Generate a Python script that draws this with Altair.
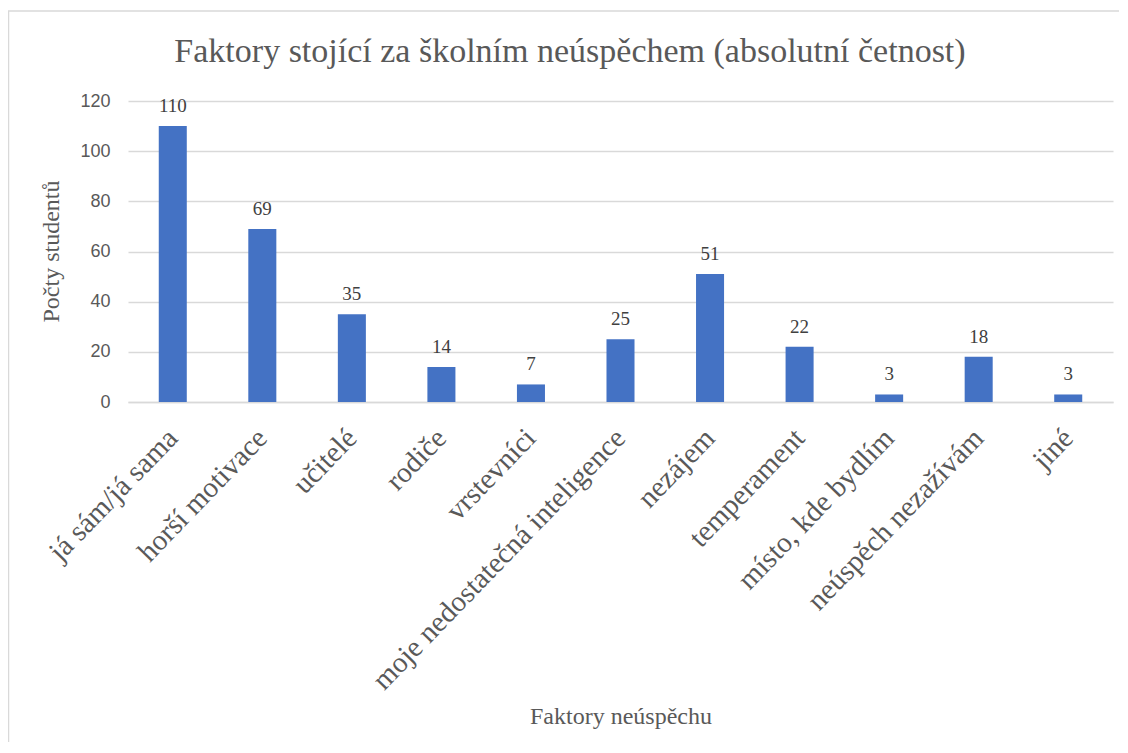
import altair as alt
import pandas as pd

categories = ["já sám/já sama", "horší motivace", "učitelé", "rodiče", "vrstevníci",
              "moje nedostatečná inteligence", "nezájem", "temperament",
              "místo, kde bydlím", "neúspěch nezažívám", "jiné"]
counts = [110, 69, 35, 14, 7, 25, 51, 22, 3, 18, 3]
y_ticks = [0, 20, 40, 60, 80, 100, 120]

title_text = "Faktory stojící za školním neúspěchem (absolutní četnost)"
x_title = "Faktory neúspěchu"
y_title = "Počty studentů"

df = pd.DataFrame({"faktor": categories, "pocet": counts})

W, H = 985, 301
SERIF = "Liberation Serif"
GRAY = "#595959"

x_enc = alt.X("faktor:N", sort=categories,
              scale=alt.Scale(paddingInner=0.687, paddingOuter=0.3435),
              axis=alt.Axis(title=x_title, labelAngle=-46, labelAlign="right",
                            labelBaseline="middle", labelPadding=31,
                            labelFont=SERIF, labelFontSize=29, labelColor=GRAY,
                            labelLimit=1000, labelOverlap=False,
                            ticks=False, domainColor="#d9d9d9", domainWidth=1.5,
                            titleFont=SERIF, titleFontSize=24, titleColor=GRAY,
                            titleFontWeight="normal", titleY=321,
                            titleBaseline="alphabetic"))
y_enc = alt.Y("pocet:Q",
              scale=alt.Scale(domain=[0, 120], nice=False),
              axis=alt.Axis(title=y_title, values=y_ticks, grid=True,
                            gridColor="#d9d9d9", gridWidth=1.3,
                            domain=False, ticks=False, labelPadding=18,
                            labelFont="Liberation Sans", labelFontSize=18,
                            labelColor=GRAY,
                            titleFont=SERIF, titleFontSize=24, titleColor=GRAY,
                            titleFontWeight="normal", titleAngle=-90,
                            titleX=-70, titleY=150, titleAlign="center",
                            titleBaseline="alphabetic"))

base = alt.Chart(df)
bars = base.mark_bar(color="#4472C4").encode(x=x_enc, y=y_enc)
labels = base.mark_text(baseline="alphabetic", dy=-14, font=SERIF, fontSize=19,
                        color="#404040").encode(
    x=alt.X("faktor:N", sort=categories), y="pocet:Q", text="pocet:Q")

deco = alt.Chart(alt.Data(values=[{"t": title_text}]))
title_mark = deco.mark_text(font=SERIF, fontSize=34, color=GRAY,
                            baseline="alphabetic", align="center").encode(
    x=alt.value(442), y=alt.value(-39), text="t:N")
border = deco.mark_rect(fill=None, stroke="#d9d9d9", strokeWidth=1.5,
                        clip=False).encode(
    x=alt.value(-119.5), x2=alt.value(W + 30),
    y=alt.value(-90), y2=alt.value(H + 400))

chart = alt.layer(border, bars, labels, title_mark).properties(
    width=W, height=H,
    autosize=alt.AutoSizeParams(type="none"),
    padding={"left": 120, "top": 93, "right": 6, "bottom": 340},
    background="white",
).configure_view(stroke=None)

chart.save("out.html", embed_options={"renderer": "svg", "actions": False})
